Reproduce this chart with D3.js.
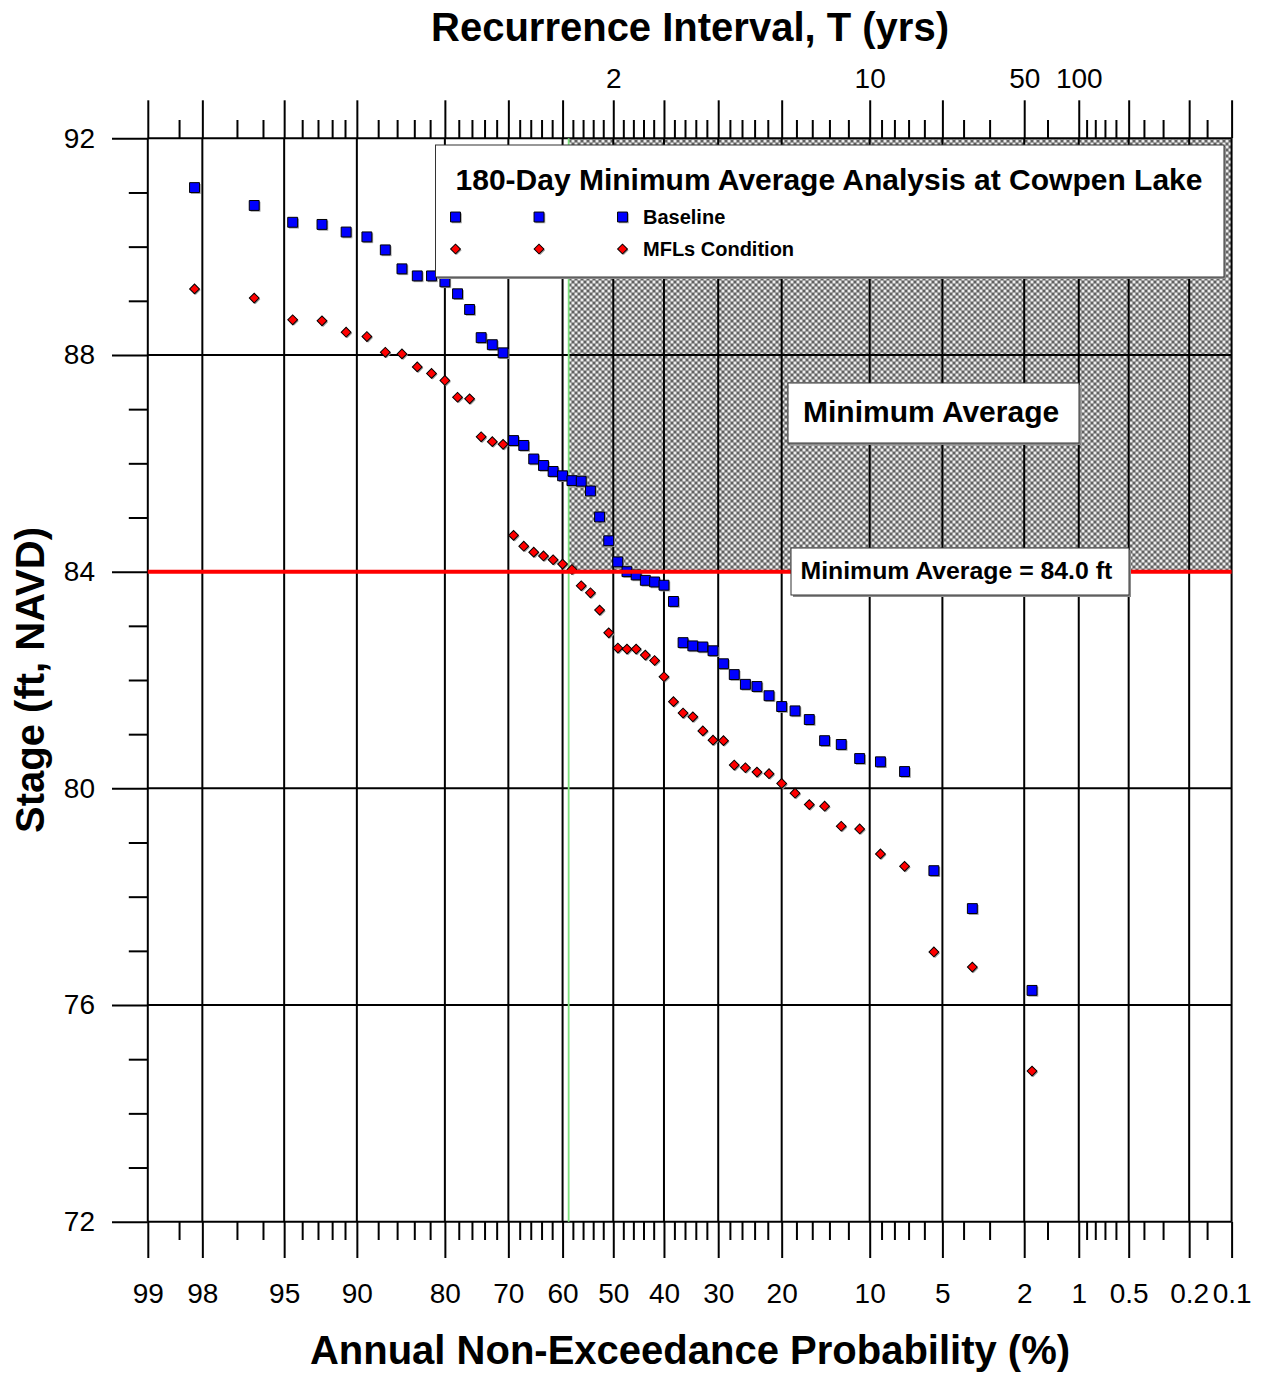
<!DOCTYPE html>
<html>
<head>
<meta charset="utf-8">
<script src="https://cdn.jsdelivr.net/npm/d3@7"></script>
<style>
  body { margin: 0; background: #fff; }
  svg { display: block; }
</style>
</head>
<body>
<script>
// ---- data ----
// stages sorted from highest to lowest, plotted at Weibull positions rank/(n+1)
var baselineStage = [91.09, 90.76, 90.45, 90.41, 90.27, 90.18, 89.94, 89.59, 89.46, 89.46,
  89.35, 89.13, 88.84, 88.32, 88.19, 88.04, 86.42, 86.33, 86.08, 85.96,
  85.85, 85.77, 85.68, 85.67, 85.49, 85.01, 84.57, 84.18, 84.00, 83.94,
  83.84, 83.81, 83.75, 83.45, 82.69, 82.63, 82.61, 82.54, 82.30, 82.10,
  81.92, 81.88, 81.71, 81.51, 81.43, 81.27, 80.88, 80.81, 80.55, 80.49,
  80.31, 78.48, 77.78, 76.27];
var mflStage = [89.22, 89.05, 88.65, 88.63, 88.42, 88.34, 88.05, 88.02, 87.78, 87.66,
  87.53, 87.22, 87.19, 86.49, 86.40, 86.35, 84.67, 84.47, 84.36, 84.29,
  84.22, 84.14, 84.04, 83.74, 83.61, 83.29, 82.87, 82.59, 82.57, 82.57,
  82.46, 82.36, 82.06, 81.60, 81.39, 81.32, 81.06, 80.89, 80.88, 80.43,
  80.38, 80.30, 80.27, 80.09, 79.91, 79.70, 79.67, 79.30, 79.25, 78.79,
  78.56, 76.98, 76.70, 74.78];

var probMajor = [99, 98, 95, 90, 80, 70, 60, 50, 40, 30, 20, 10, 5, 2, 1, 0.5, 0.2, 0.1];
var probMinor = [98.5, 97, 96, 94, 93, 92, 91, 88, 86, 84, 82, 78, 76, 74, 72,
  68, 66, 64, 62, 58, 56, 54, 52, 48, 46, 44, 42, 38, 36, 34, 32,
  28, 26, 24, 22, 18, 16, 14, 12, 9, 8, 7, 6, 4, 3, 1.5, 0.9, 0.8, 0.7, 0.6, 0.4, 0.3, 0.15];
var recurrenceLabels = [2, 10, 50, 100];
var stageMajor = [72, 76, 80, 84, 88, 92];
var stageMinor = [73, 74, 75, 77, 78, 79, 81, 82, 83, 85, 86, 87, 89, 90, 91];

var minAverage = 84.0;
var markerT = 1.7;   // green line, recurrence interval (yrs)

var FONT = "'Liberation Sans', Arial, Helvetica, sans-serif";

// inverse normal cdf (Acklam)
function probit(p) {
  var a = [-3.969683028665376e+01, 2.209460984245205e+02, -2.759285104469687e+02, 1.383577518672690e+02, -3.066479806614716e+01, 2.506628277459239e+00];
  var b = [-5.447609879822406e+01, 1.615858368580409e+02, -1.556989798598866e+02, 6.680131188771972e+01, -1.328068155288572e+01];
  var c = [-7.784894002430293e-03, -3.223964580411365e-01, -2.400758277161838e+00, -2.549732539343734e+00, 4.374664141464968e+00, 2.938163982698783e+00];
  var d = [7.784695709041462e-03, 3.224671290700398e-01, 2.445134137142996e+00, 3.754408661907416e+00];
  var pl = 0.02425, q, r;
  if (p < pl) {
    q = Math.sqrt(-2 * Math.log(p));
    return (((((c[0]*q+c[1])*q+c[2])*q+c[3])*q+c[4])*q+c[5]) / ((((d[0]*q+d[1])*q+d[2])*q+d[3])*q+1);
  }
  if (p <= 1 - pl) {
    q = p - 0.5; r = q * q;
    return (((((a[0]*r+a[1])*r+a[2])*r+a[3])*r+a[4])*r+a[5])*q / (((((b[0]*r+b[1])*r+b[2])*r+b[3])*r+b[4])*r+1);
  }
  q = Math.sqrt(-2 * Math.log(1 - p));
  return -(((((c[0]*q+c[1])*q+c[2])*q+c[3])*q+c[4])*q+c[5]) / ((((d[0]*q+d[1])*q+d[2])*q+d[3])*q+1);
}
function zp(pct) { return probit(pct / 100); }

// ---- scales ----
var plotL = 147.8, plotR = 1231.6, plotT = 138.3, plotB = 1221.7;
var xz = d3.scaleLinear().domain([zp(99), zp(0.1)]).range([plotL, plotR]);
var px = function(pct) { return xz(zp(pct)); };
var y = d3.scaleLinear().domain([72, 92]).range([plotB, plotT]);

var svg = d3.select("body").append("svg")
  .attr("width", 1263).attr("height", 1374)
  .attr("font-family", FONT);
svg.append("rect").attr("width", 1263).attr("height", 1374).attr("fill", "#fff");

// hatch pattern
var pat = svg.append("defs").append("pattern")
  .attr("id", "hatch").attr("width", 6).attr("height", 6)
  .attr("patternUnits", "userSpaceOnUse");
pat.append("rect").attr("width", 6).attr("height", 6).attr("fill", "#555");
[[0, 0], [6, 0], [0, 6], [6, 6], [3, 3]].forEach(function(c) {
  pat.append("circle").attr("cx", c[0]).attr("cy", c[1]).attr("r", 2.2).attr("fill", "#a4a4a4");
  pat.append("circle").attr("cx", c[0]).attr("cy", c[1]).attr("r", 1.1).attr("fill", "#fff");
});

// shaded zone above minimum average, right of green line
svg.append("rect")
  .attr("x", px(100 / markerT)).attr("y", y(92))
  .attr("width", px(0.1) - px(100 / markerT))
  .attr("height", y(minAverage) - y(92))
  .attr("fill", "url(#hatch)");

// grid
svg.append("g").selectAll("line").data(stageMajor).enter().append("line")
  .attr("x1", plotL).attr("x2", plotR)
  .attr("y1", function(d) { return y(d); }).attr("y2", function(d) { return y(d); })
  .attr("stroke", "#000").attr("stroke-width", 2);
svg.append("g").selectAll("line").data(probMajor).enter().append("line")
  .attr("x1", function(d) { return px(d); }).attr("x2", function(d) { return px(d); })
  .attr("y1", plotT).attr("y2", plotB)
  .attr("stroke", "#000").attr("stroke-width", 2);

function styleAxis(g) {
  g.select(".domain").remove();
  g.selectAll("line").attr("stroke", "#000").attr("stroke-width", 2);
  g.selectAll("text").attr("font-size", 28).attr("font-family", FONT).attr("fill", "#000");
}

var zMajor = probMajor.map(zp), zMinor = probMinor.map(zp);

// bottom axis
svg.append("g").attr("transform", "translate(0," + plotB + ")")
  .call(d3.axisBottom(xz).tickValues(zMajor).tickSize(36.3).tickPadding(25)
    .tickFormat(function(d, i) { return String(probMajor[i]); }))
  .call(styleAxis);
svg.append("g").attr("transform", "translate(0," + plotB + ")")
  .call(d3.axisBottom(xz).tickValues(zMinor).tickSize(18.3).tickFormat(""))
  .call(styleAxis);

// top axis
svg.append("g").attr("transform", "translate(0," + plotT + ")")
  .call(d3.axisTop(xz).tickValues(zMajor).tickSize(38).tickFormat(""))
  .call(styleAxis);
svg.append("g").attr("transform", "translate(0," + plotT + ")")
  .call(d3.axisTop(xz).tickValues(zMinor).tickSize(18.3).tickFormat(""))
  .call(styleAxis);
svg.append("g").attr("transform", "translate(0," + plotT + ")")
  .call(d3.axisTop(xz).tickValues(recurrenceLabels.map(function(t) { return zp(100 / t); }))
    .tickSize(0).tickPadding(50)
    .tickFormat(function(d, i) { return String(recurrenceLabels[i]); }))
  .call(styleAxis);

// left axis
svg.append("g").attr("transform", "translate(" + plotL + ",0)")
  .call(d3.axisLeft(y).tickValues(stageMajor).tickSize(35.8).tickPadding(17).tickFormat(d3.format("d")))
  .call(styleAxis);
svg.append("g").attr("transform", "translate(" + plotL + ",0)")
  .call(d3.axisLeft(y).tickValues(stageMinor).tickSize(19).tickFormat(""))
  .call(styleAxis);

// green recurrence marker line
svg.append("line")
  .attr("x1", px(100 / markerT)).attr("x2", px(100 / markerT))
  .attr("y1", plotT).attr("y2", plotB)
  .attr("stroke", "#7ee27e").attr("stroke-width", 1.8);

// points
var n = baselineStage.length;
function plotPos(i) { return (n - i) / (n + 1) * 100; }
var square = d3.symbol().type(d3.symbolSquare).size(98);
var diamond = d3.symbol().type(d3.symbolSquare).size(48);

function drawSquares(g, pts) {
  g.selectAll(".sh").data(pts).enter().append("path")
    .attr("d", square)
    .attr("transform", function(d) { return "translate(" + (d[0] + 1.3) + "," + (d[1] + 1.3) + ")"; })
    .attr("fill", "#9a9a9a");
  g.selectAll(".pt").data(pts).enter().append("path")
    .attr("d", square)
    .attr("transform", function(d) { return "translate(" + d[0] + "," + d[1] + ")"; })
    .attr("fill", "#0000ff").attr("stroke", "#000").attr("stroke-width", 1);
}
function drawDiamonds(g, pts) {
  g.selectAll(".sh").data(pts).enter().append("path")
    .attr("d", diamond)
    .attr("transform", function(d) { return "translate(" + (d[0] + 1.2) + "," + (d[1] + 1.2) + ") rotate(45)"; })
    .attr("fill", "#9a9a9a");
  g.selectAll(".pt").data(pts).enter().append("path")
    .attr("d", diamond)
    .attr("transform", function(d) { return "translate(" + d[0] + "," + d[1] + ") rotate(45)"; })
    .attr("fill", "#ff0000").attr("stroke", "#000").attr("stroke-width", 1);
}

drawDiamonds(svg.append("g"), mflStage.map(function(v, i) { return [px(plotPos(i)), y(v)]; }));
drawSquares(svg.append("g"), baselineStage.map(function(v, i) { return [px(plotPos(i)), y(v)]; }));

// minimum average line
svg.append("line")
  .attr("x1", plotL).attr("x2", plotR)
  .attr("y1", y(minAverage)).attr("y2", y(minAverage))
  .attr("stroke", "#ff0000").attr("stroke-width", 4);

// boxes
function box(x, yy, w, h) {
  svg.append("rect").attr("x", x + 2).attr("y", yy + 2).attr("width", w).attr("height", h).attr("fill", "#8c8c8c");
  svg.append("rect").attr("x", x).attr("y", yy).attr("width", w).attr("height", h)
    .attr("fill", "#fff").attr("stroke", "#333").attr("stroke-width", 1);
}

// legend
box(435.5, 145, 788.5, 132);
svg.append("text").attr("x", 829).attr("y", 190).attr("text-anchor", "middle")
  .attr("font-size", 30).attr("font-weight", "bold")
  .text("180-Day Minimum Average Analysis at Cowpen Lake");
var legX = [455.5, 539, 622.5];
drawSquares(svg.append("g"), legX.map(function(x) { return [x, 217]; }));
drawDiamonds(svg.append("g"), legX.map(function(x) { return [x, 249]; }));
svg.append("text").attr("x", 643).attr("y", 224).attr("font-size", 20).attr("font-weight", "bold").text("Baseline");
svg.append("text").attr("x", 643).attr("y", 256).attr("font-size", 20).attr("font-weight", "bold").text("MFLs Condition");

box(788, 383, 291, 60);
svg.append("text").attr("x", 803).attr("y", 422).attr("font-size", 30).attr("font-weight", "bold")
  .text("Minimum Average");

box(791, 548, 338, 47);
svg.append("text").attr("x", 800.5).attr("y", 579).attr("font-size", 24.8).attr("font-weight", "bold")
  .text("Minimum Average = " + minAverage.toFixed(1) + " ft");

// titles
svg.append("text").attr("x", 690).attr("y", 41).attr("text-anchor", "middle")
  .attr("font-size", 40).attr("font-weight", "bold").text("Recurrence Interval, T (yrs)");
svg.append("text").attr("x", 690).attr("y", 1364).attr("text-anchor", "middle")
  .attr("font-size", 40).attr("font-weight", "bold").text("Annual Non-Exceedance Probability (%)");
svg.append("text").attr("transform", "translate(44,680) rotate(-90)").attr("text-anchor", "middle")
  .attr("font-size", 40).attr("font-weight", "bold").text("Stage (ft, NAVD)");
</script>
</body>
</html>
